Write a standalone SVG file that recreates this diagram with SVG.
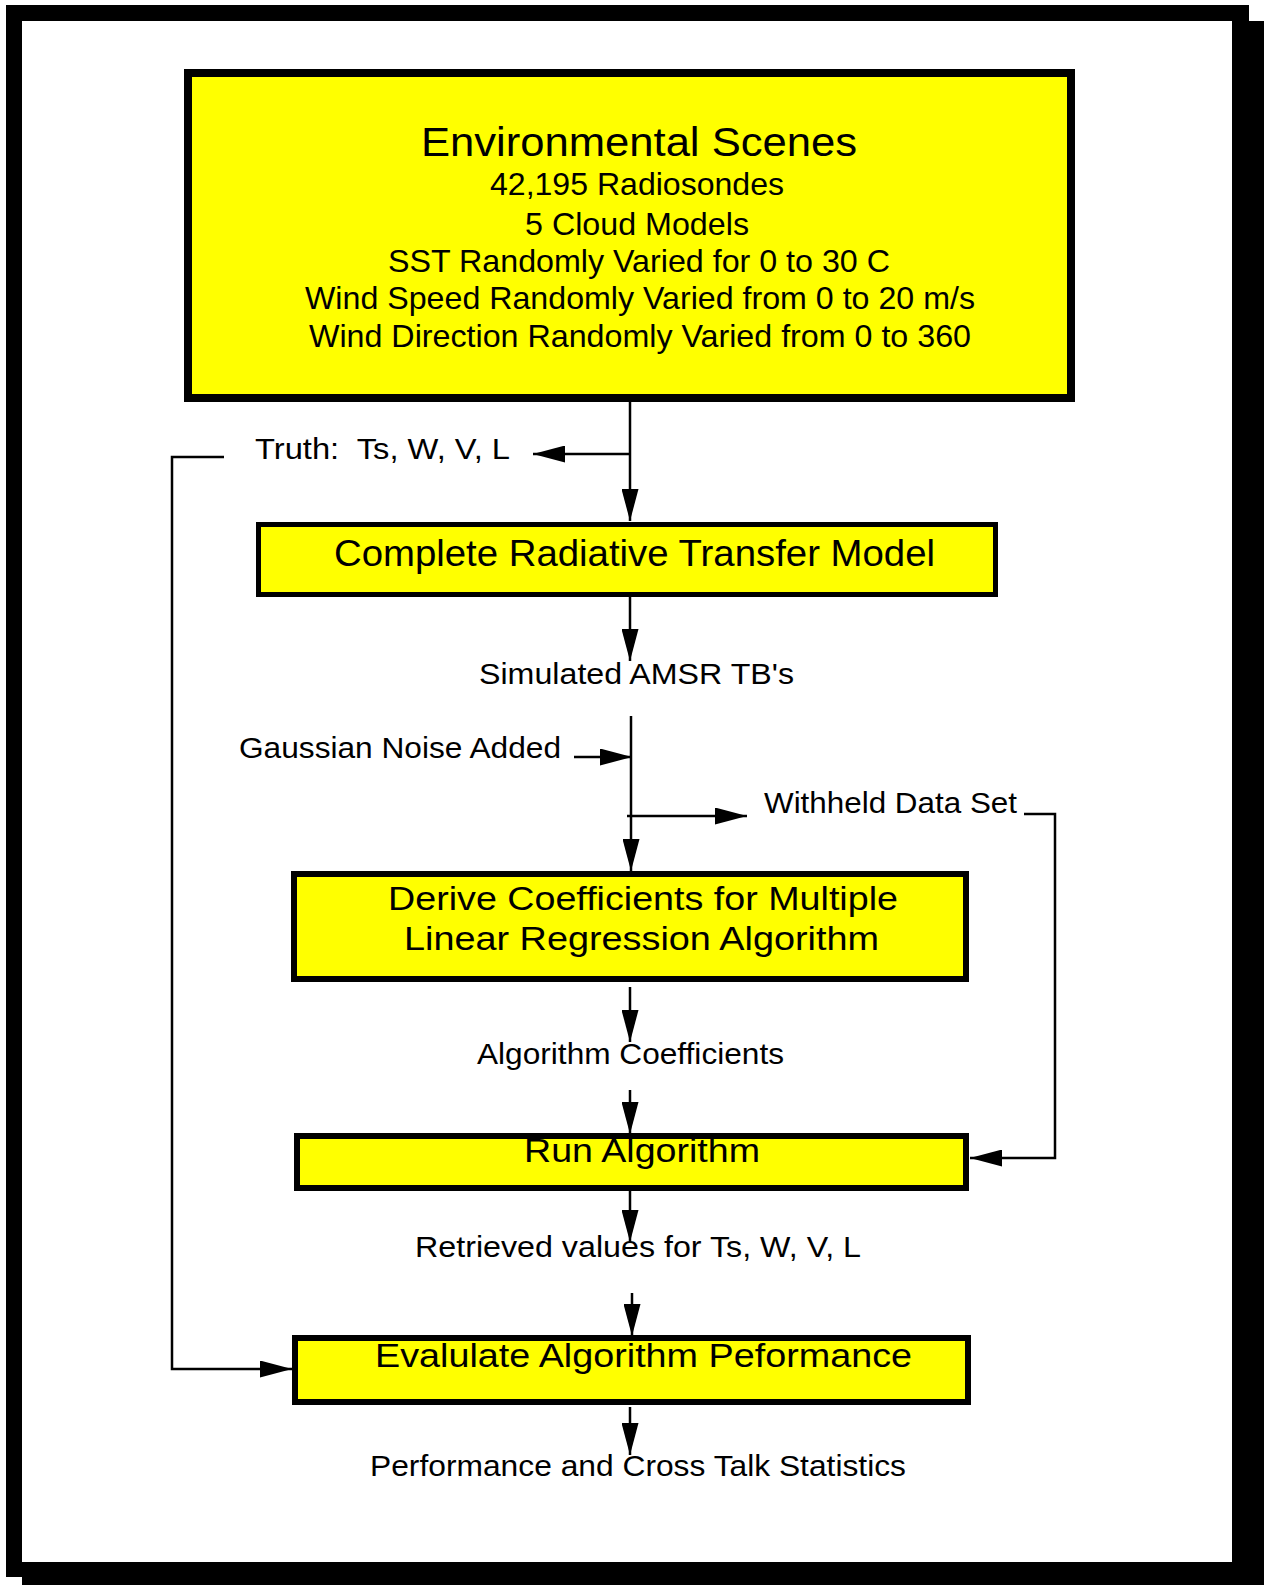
<svg xmlns="http://www.w3.org/2000/svg" width="1264" height="1585" viewBox="0 0 1264 1585">
<defs>
<style>
.box{fill:#ffff00;stroke:#000;}
.t{font-family:"Liberation Sans",Arial,sans-serif;fill:#000;}
.ln{fill:none;stroke:#000;stroke-width:2.5;}
</style>
<marker id="ah" markerUnits="userSpaceOnUse" markerWidth="33" markerHeight="17" refX="32" refY="8.5" orient="auto">
<path d="M0,0 L32,8.5 L0,17 z" fill="#000"/>
</marker>
</defs>
<g id="frame">
<rect x="22" y="21" width="1243" height="1572" fill="#000"/>
<rect x="6" y="5" width="1243" height="1572" fill="#000"/>
<rect x="22" y="21" width="1210" height="1541" fill="#fff"/>
</g>
<g id="node-env">
<rect class="box" x="188" y="73" width="883" height="325" stroke-width="8"/>
<text class="t" x="421" y="156" font-size="40" textLength="436" lengthAdjust="spacingAndGlyphs">Environmental Scenes</text>
<text class="t" x="490" y="195" font-size="30.5" textLength="294" lengthAdjust="spacingAndGlyphs">42,195 Radiosondes</text>
<text class="t" x="525" y="235" font-size="30.5" textLength="224" lengthAdjust="spacingAndGlyphs">5 Cloud Models</text>
<text class="t" x="388" y="272" font-size="30.5" textLength="502" lengthAdjust="spacingAndGlyphs">SST Randomly Varied for 0 to 30 C</text>
<text class="t" x="305" y="309" font-size="30.5" textLength="670" lengthAdjust="spacingAndGlyphs">Wind Speed Randomly Varied from 0 to 20 m/s</text>
<text class="t" x="309" y="347" font-size="30.5" textLength="662" lengthAdjust="spacingAndGlyphs">Wind Direction Randomly Varied from 0 to 360</text>
</g>
<g id="label-truth">
<text class="t" x="255" y="459" font-size="29" textLength="255" lengthAdjust="spacingAndGlyphs" xml:space="preserve">Truth:  Ts, W, V, L</text>
</g>
<g id="node-crtm">
<rect class="box" x="258.5" y="524.5" width="737" height="70" stroke-width="5"/>
<text class="t" x="334" y="566" font-size="36" textLength="601" lengthAdjust="spacingAndGlyphs">Complete Radiative Transfer Model</text>
</g>
<g id="label-simulated">
<text class="t" x="479" y="684" font-size="29" textLength="315" lengthAdjust="spacingAndGlyphs">Simulated AMSR TB's</text>
</g>
<g id="label-gaussian">
<text class="t" x="239" y="758" font-size="29" textLength="322" lengthAdjust="spacingAndGlyphs">Gaussian Noise Added</text>
</g>
<g id="label-withheld">
<text class="t" x="764" y="813" font-size="29" textLength="253" lengthAdjust="spacingAndGlyphs">Withheld Data Set</text>
</g>
<g id="node-derive">
<rect class="box" x="294" y="874" width="672" height="105" stroke-width="6"/>
<text class="t" x="388" y="910" font-size="34" textLength="510" lengthAdjust="spacingAndGlyphs">Derive Coefficients for Multiple</text>
<text class="t" x="404" y="950" font-size="34" textLength="475" lengthAdjust="spacingAndGlyphs">Linear Regression Algorithm</text>
</g>
<g id="label-coeff">
<text class="t" x="477" y="1064" font-size="29" textLength="307" lengthAdjust="spacingAndGlyphs">Algorithm Coefficients</text>
</g>
<g id="node-run">
<rect class="box" x="297" y="1136" width="669" height="52" stroke-width="6"/>
<text class="t" x="524" y="1162" font-size="33" textLength="236" lengthAdjust="spacingAndGlyphs">Run Algorithm</text>
</g>
<g id="label-retrieved">
<text class="t" x="415" y="1257" font-size="29" textLength="446" lengthAdjust="spacingAndGlyphs">Retrieved values for Ts, W, V, L</text>
</g>
<g id="node-evaluate">
<rect class="box" x="295" y="1338" width="673" height="64" stroke-width="6"/>
<text class="t" x="375" y="1367" font-size="33" textLength="537" lengthAdjust="spacingAndGlyphs">Evalulate Algorithm Peformance</text>
</g>
<g id="label-performance">
<text class="t" x="370" y="1476" font-size="29" textLength="536" lengthAdjust="spacingAndGlyphs">Performance and Cross Talk Statistics</text>
</g>
<g id="connectors">
<path class="ln" d="M630,402 V521" marker-end="url(#ah)"/>
<path class="ln" d="M630,454 H533" marker-end="url(#ah)"/>
<path class="ln" d="M224,457 H172 V1369 H292" marker-end="url(#ah)"/>
<path class="ln" d="M630,597 V661" marker-end="url(#ah)"/>
<path class="ln" d="M574,757 H632" marker-end="url(#ah)"/>
<path class="ln" d="M631,716 V871" marker-end="url(#ah)"/>
<path class="ln" d="M627,816 H747" marker-end="url(#ah)"/>
<path class="ln" d="M1024,814 H1055 V1158 H970" marker-end="url(#ah)"/>
<path class="ln" d="M630,987 V1042" marker-end="url(#ah)"/>
<path class="ln" d="M630,1090 V1134" marker-end="url(#ah)"/>
<path class="ln" d="M630,1191 V1242" marker-end="url(#ah)"/>
<path class="ln" d="M632,1293 V1336" marker-end="url(#ah)"/>
<path class="ln" d="M630,1407 V1455" marker-end="url(#ah)"/>
</g>
</svg>
